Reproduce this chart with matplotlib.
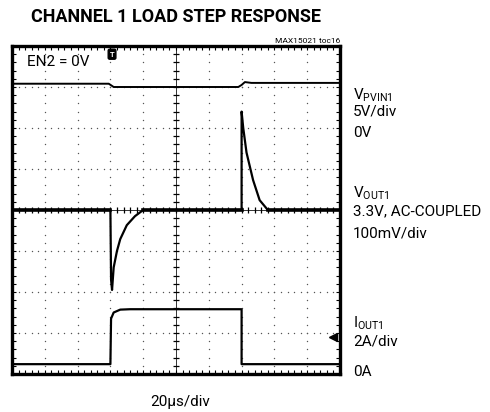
import numpy as np
import matplotlib
matplotlib.use("Agg")
import matplotlib.pyplot as plt
from matplotlib import font_manager

# font: narrow sans if available
def pick_font(names):
    for n in names:
        try:
            font_manager.findfont(n, fallback_to_default=False)
            return n
        except Exception:
            pass
    return "DejaVu Sans"

FONT = pick_font(["Liberation Sans Narrow", "Roboto", "Liberation Sans"])
plt.rcParams['font.family'] = [FONT, 'DejaVu Sans']

# Data (time and amplitude in screen divisions)
vpvin_t = [0, 2.95, 3.1, 3.3, 6.9, 7.0, 7.1, 7.3, 10]
vpvin_v = [7.08, 7.08, 7.0, 7.0, 7.0, 7.05, 7.12, 7.1, 7.1]

vout_t = [0, 3.0, 3.02, 3.05, 3.1, 3.2, 3.3, 3.5, 3.75, 4.0, 7.0, 7.0, 7.05, 7.15, 7.35, 7.55, 7.8, 10]
vout_v = [4.0, 4.0, 2.3, 2.05, 2.6, 3.0, 3.29, 3.63, 3.85, 4.0, 4.0, 6.4, 6.0, 5.4, 4.73, 4.24, 4.0, 4.0]

iout_t = [0, 3.0, 3.02, 3.1, 3.3, 3.6, 7.0, 7.0, 10]
iout_v = [0.24, 0.24, 1.35, 1.5, 1.57, 1.58, 1.58, 0.24, 0.24]

fig = plt.figure(figsize=(4.9, 4.12), dpi=100)
ax = fig.add_axes([12/490, 1-374/412, 328/490, 328/412])
ax.set_xlim(0, 10)
ax.set_ylim(0, 8)
ax.set_xticks([])
ax.set_yticks([])
for s in ax.spines.values():
    s.set_linewidth(2.4)

# dotted graticule
sub = np.arange(0, 10.01, 0.2)
subv = np.arange(0, 8.01, 0.2)
dot = dict(ls='none', marker='o', ms=1.0, mew=0, color='#555555')
for gx in range(1, 10):
    if gx == 5:
        continue
    ax.plot(np.full_like(subv, gx), subv, **dot)
for gy in range(1, 8):
    if gy == 4:
        continue
    ax.plot(sub, np.full_like(sub, gy), **dot)

# center axes with ticks
ax.axvline(5, color='#333333', lw=0.7)
ax.axhline(4, color='#333333', lw=0.7)
ax.plot(np.full_like(subv, 5), subv, ls='none', marker='_', ms=4.5, mew=0.9, color='black')
ax.plot(sub, np.full_like(sub, 4), ls='none', marker='|', ms=4.5, mew=0.9, color='black')
# border ticks
ax.plot(sub, np.full_like(sub, 0.05), ls='none', marker='|', ms=3.5, mew=0.8, color='black')
ax.plot(sub, np.full_like(sub, 7.95), ls='none', marker='|', ms=3.5, mew=0.8, color='black')
ax.plot(np.full_like(subv, 0.06), subv, ls='none', marker='_', ms=3.5, mew=0.8, color='black')
ax.plot(np.full_like(subv, 9.94), subv, ls='none', marker='_', ms=3.5, mew=0.8, color='black')

# traces
ax.plot(vpvin_t, vpvin_v, color='black', lw=1.4)
ax.plot(vout_t, vout_v, color='black', lw=1.6)
ax.plot([0, 3.0], [4.0, 4.0], color='black', lw=2.6)
ax.plot([4.0, 7.0], [4.0, 4.0], color='black', lw=2.6)
ax.plot([7.8, 10], [4.0, 4.0], color='black', lw=2.6)
ax.plot(iout_t, iout_v, color='black', lw=1.6)

# markers
ax.text(3.05, 7.8, 'T', fontsize=5.5, color='white', ha='center', va='center', fontweight='bold',
        bbox=dict(boxstyle='round,pad=0.2', fc='black', ec='black'))
ax.plot([9.8], [0.9], marker='<', ms=6, color='black')

ax.text(0.45, 7.6, 'EN2 = 0V', fontsize=11, va='center', ha='left')

# texts outside
fig.text(176/490, 1-17/412, 'CHANNEL 1 LOAD STEP RESPONSE', fontsize=13, fontweight='bold',
         ha='center', va='center')
fig.text(340/490, 1-41/412, 'MAX15021 toc16', fontsize=6, ha='right', va='center')

lx = 353/490
def lab(y, s, fs=11):
    fig.text(lx, 1-y/412, s, fontsize=fs, ha='left', va='center')

lab(95, r'V$_{\mathregular{PVIN1}}$')
lab(112, '5V/div')
lab(133, '0V')
lab(193, r'V$_{\mathregular{OUT1}}$')
lab(211, '3.3V, AC-COUPLED')
lab(233, '100mV/div')
lab(323, r'I$_{\mathregular{OUT1}}$')
lab(342, '2A/div')
lab(372, '0A')
fig.text(180/490, 1-402/412, '20\u03bcs/div', fontsize=11, ha='center', va='center')

fig.savefig('out.png', dpi=100)
